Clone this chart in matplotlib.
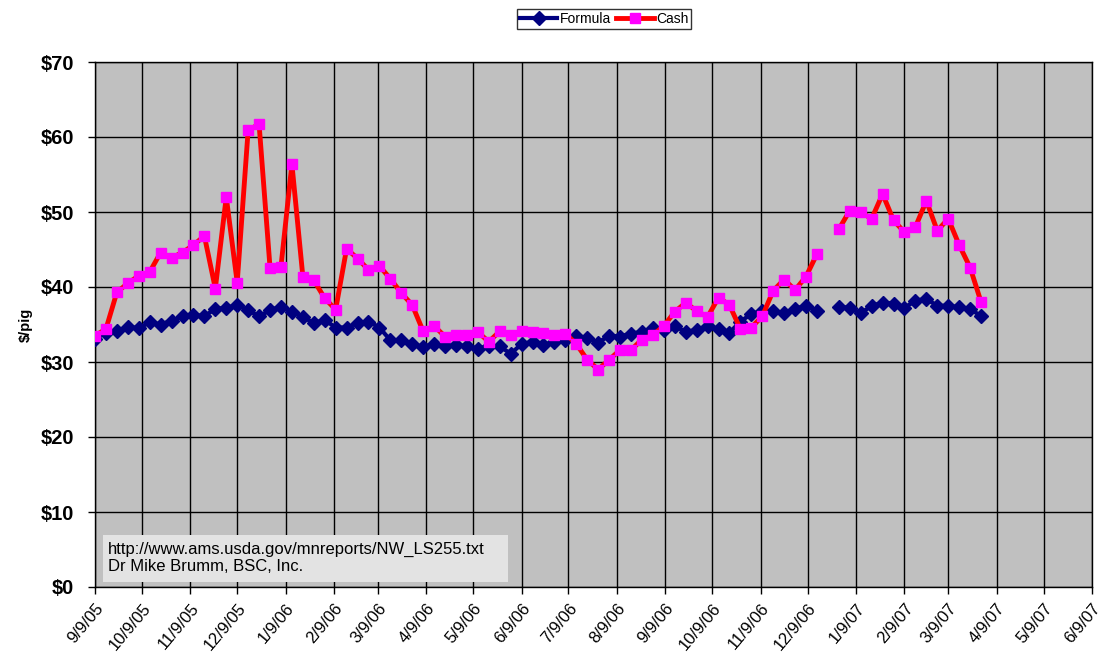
import numpy as np
import pandas as pd
import matplotlib
matplotlib.use("Agg")
import matplotlib.pyplot as plt
from matplotlib.patches import Rectangle

plt.rcParams['font.family'] = ['Liberation Sans', 'DejaVu Sans']

# weekly observation dates (first Friday 9/9/05); the week of 12/22/06 has no report
start_date = "2005-09-09"
n_weeks = 82

formula = [33.1, 33.9, 34.1, 34.7, 34.5, 35.3, 35.0, 35.5, 36.1, 36.3,
           36.1, 37.1, 37.2, 37.6, 36.9, 36.1, 36.9, 37.4, 36.7, 36.0,
           35.2, 35.6, 34.6, 34.6, 35.2, 35.4, 34.6, 32.9, 32.9, 32.4,
           32.0, 32.4, 32.1, 32.3, 32.1, 31.8, 32.1, 32.1, 31.1, 32.4,
           32.7, 32.3, 32.7, 32.9, 33.5, 33.2, 32.6, 33.5, 33.4, 33.8,
           34.0, 34.5, 34.3, 34.8, 34.0, 34.3, 34.8, 34.4, 33.9, 35.4,
           36.4, 36.8, 36.8, 36.5, 37.1, 37.5, 36.8, np.nan, 37.4, 37.2,
           36.5, 37.5, 37.9, 37.8, 37.2, 38.2, 38.4, 37.5, 37.5, 37.3,
           37.1, 36.1]

cash = [33.5, 34.4, 39.3, 40.5, 41.5, 42.0, 44.6, 43.9, 44.6, 45.6,
        46.8, 39.8, 52.0, 40.6, 60.9, 61.7, 42.6, 42.7, 56.4, 41.4,
        40.9, 38.5, 37.0, 45.1, 43.8, 42.3, 42.8, 41.1, 39.2, 37.6,
        34.1, 34.8, 33.4, 33.6, 33.6, 34.0, 32.7, 34.1, 33.6, 34.1,
        34.0, 33.9, 33.6, 33.8, 32.4, 30.3, 29.0, 30.3, 31.6, 31.6,
        33.0, 33.6, 34.8, 36.7, 37.9, 36.8, 36.0, 38.6, 37.6, 34.4,
        34.6, 36.1, 39.5, 41.0, 39.6, 41.4, 44.4, np.nan, 47.7, 50.2,
        50.0, 49.1, 52.4, 48.9, 47.3, 48.0, 51.5, 47.5, 49.1, 45.6,
        42.6, 38.0]

tick_dates = ["2005-09-09", "2005-10-09", "2005-11-09", "2005-12-09",
              "2006-01-09", "2006-02-09", "2006-03-09", "2006-04-09",
              "2006-05-09", "2006-06-09", "2006-07-09", "2006-08-09",
              "2006-09-09", "2006-10-09", "2006-11-09", "2006-12-09",
              "2007-01-09", "2007-02-09", "2007-03-09", "2007-04-09",
              "2007-05-09", "2007-06-09"]
y_ticks = [0, 10, 20, 30, 40, 50, 60, 70]

dates = pd.date_range(start_date, periods=n_weeks, freq="7D")
ticks = pd.to_datetime(tick_dates)
tick_labels = [f"{d.month}/{d.day}/{d.strftime('%y')}" for d in ticks]

W, H = 1104, 654
fig = plt.figure(figsize=(W/100, H/100), dpi=100)
ax = fig.add_axes([95/W, 1-587/H, (1092-95)/W, (587-62)/H])
ax.set_facecolor("#C0C0C0")

ax.plot(dates, formula, color="#000080", lw=3, marker="D", ms=7,
        mfc="#000080", mec="#000080", label="Formula", zorder=3)
ax.plot(dates, cash, color="#FF0000", lw=3.5, marker="s", ms=7.5,
        mfc="#FF00FF", mec="#FF00FF", label="Cash", zorder=4)

ax.set_xlim(ticks[0], ticks[-1])
ax.set_ylim(0, 70)
ax.set_yticks(y_ticks)
ax.set_yticklabels([f"${v}" for v in y_ticks], fontsize=14.5, fontweight="bold")
ax.set_xticks(ticks)
ax.set_xticklabels(tick_labels, rotation=50, ha="right", va="top",
                   rotation_mode="anchor", fontsize=12)
ax.tick_params(axis="both", direction="out", length=5, color="black", width=1)
ax.tick_params(axis="x", pad=5)
ax.tick_params(axis="y", pad=10)
ax.grid(True, color="black", lw=1, zorder=1)
ax.set_axisbelow(True)
for s in ax.spines.values():
    s.set_color("black")
    s.set_linewidth(1)

ax.set_ylabel("$/pig", fontsize=10.5, fontweight="bold", labelpad=6)

# source note box
fig.add_artist(Rectangle((103/W, 1-582/H), (508-103)/W, (582-535)/H,
                         transform=fig.transFigure, fc="#E3E3E3", ec="none",
                         zorder=5))
fig.text(108/W, 1-558/H,
         "http://www.ams.usda.gov/mnreports/NW_LS255.txt\nDr Mike Brumm, BSC, Inc.",
         fontsize=12, ha="left", va="center", linespacing=1.15, zorder=6)

leg = fig.legend(loc="center", bbox_to_anchor=(604/W, 1-19/H), ncol=2,
                 fontsize=10, frameon=True, fancybox=False, edgecolor="black",
                 handlelength=2.7, handletextpad=0.15, columnspacing=0.4,
                 borderpad=0.2, borderaxespad=0)
leg.get_frame().set_linewidth(1)

fig.savefig("out.png", dpi=100, facecolor="white")
